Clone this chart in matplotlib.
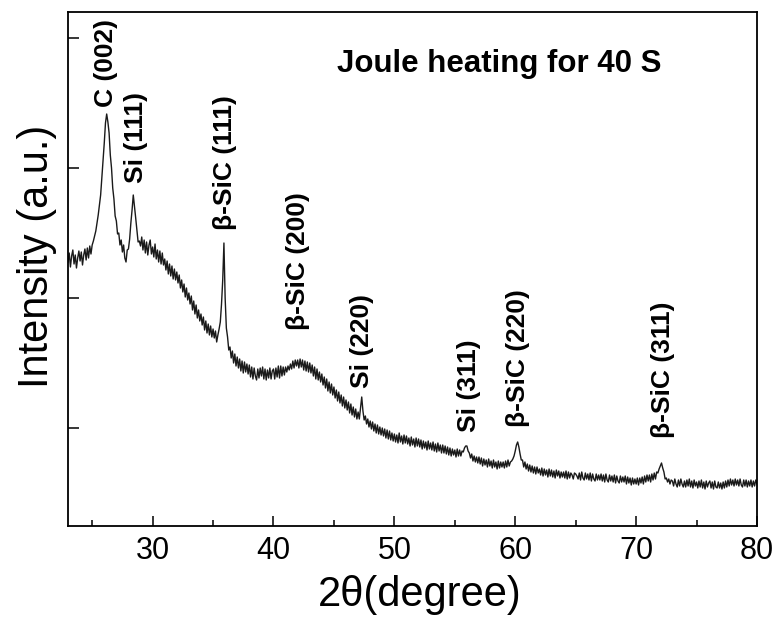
import numpy as np
import matplotlib
matplotlib.use("Agg")
import matplotlib.pyplot as plt
from matplotlib.ticker import MultipleLocator

plt.rcParams['font.family'] = ['Liberation Sans', 'DejaVu Sans']

# XRD scan, 0.1 degree step from 23 to 80 (2theta)
two_theta = np.round(np.arange(23.0, 80.05, 0.1), 1)

# intensity (a.u.), one row per degree
intensity = [
    264, 273, 259, 270, 276, 262, 271, 258, 268, 275,   # 23
    265, 274, 261, 271, 277, 266, 278, 268, 280, 272,   # 24
    281, 285, 290, 295, 303, 311, 321, 331, 348, 365,   # 25
    383, 403, 412, 404, 393, 371, 358, 338, 327, 310,   # 26
    305, 292, 293, 281, 286, 274, 281, 268, 264, 276,   # 27
    277, 287, 303, 316, 331, 320, 308, 296, 284, 285,   # 28
    280, 289, 276, 286, 273, 284, 271, 281, 286, 272,   # 29
    279, 269, 282, 267, 276, 264, 275, 262, 273, 261,   # 30
    267, 256, 265, 252, 262, 250, 260, 247, 257, 246,   # 31
    254, 243, 251, 238, 246, 234, 242, 229, 238, 226,   # 32
    233, 222, 230, 216, 225, 212, 221, 208, 216, 205,   # 33
    212, 201, 209, 196, 205, 193, 202, 191, 200, 189,   # 34
    197, 188, 195, 184, 191, 197, 204, 222, 246, 283,   # 35
    228, 198, 189, 176, 179, 168, 175, 163, 172, 160,   # 36
    169, 158, 167, 155, 165, 153, 164, 154, 162, 152,   # 37
    161, 149, 159, 147, 158, 150, 146, 157, 148, 158,   # 38
    150, 159, 147, 157, 146, 156, 148, 158, 147, 155,   # 39
    157, 147, 158, 149, 160, 148, 160, 150, 159, 151,   # 40
    159, 154, 160, 156, 162, 157, 165, 158, 166, 160,   # 41
    166, 158, 167, 159, 166, 156, 165, 155, 164, 154,   # 42
    163, 153, 161, 150, 159, 147, 157, 146, 154, 144,   # 43
    152, 141, 149, 138, 147, 135, 144, 133, 142, 131,   # 44
    139, 128, 136, 125, 134, 123, 131, 120, 129, 118,   # 45
    126, 116, 124, 113, 122, 111, 119, 109, 117, 107,   # 46
    114, 107, 118, 129, 115, 106, 110, 102, 107,  99,   # 47
    105,  97, 104,  95, 102,  93, 101,  92,  99,  91,   # 48
     98,  90,  97,  88,  96,  87,  95,  86,  93,  85,   # 49
     92,  84,  91,  83,  93,  84,  90,  82,  91,  83,   # 50
     90,  82,  88,  80,  89,  81,  87,  79,  88,  80,   # 51
     87,  79,  86,  77,  85,  78,  84,  76,  85,  77,   # 52
     83,  76,  84,  75,  82,  74,  83,  75,  81,  73,   # 53
     81,  73,  80,  72,  79,  71,  78,  70,  77,  71,   # 54
     76,  69,  77,  70,  76,  70,  75,  74,  78,  80,   # 55
     80,  75,  73,  68,  72,  65,  70,  64,  69,  63,   # 56
     69,  62,  68,  60,  67,  61,  66,  59,  67,  60,   # 57
     65,  58,  66,  59,  64,  57,  65,  58,  64,  59,   # 58
     64,  58,  65,  59,  66,  60,  64,  65,  67,  70,   # 59
     75,  81,  84,  79,  72,  66,  66,  59,  64,  57,   # 60
     62,  55,  61,  54,  60,  53,  59,  52,  59,  53,   # 61
     57,  51,  58,  50,  57,  51,  56,  49,  57,  50,   # 62
     56,  49,  55,  48,  56,  50,  55,  48,  54,  49,   # 63
     54,  48,  55,  47,  54,  48,  53,  51,  47,  53,   # 64
     52,  50,  47,  53,  46,  54,  48,  46,  53,  47,   # 65
     52,  46,  53,  45,  52,  47,  45,  52,  46,  51,   # 66
     46,  52,  45,  51,  44,  52,  46,  44,  51,  45,   # 67
     50,  44,  51,  43,  50,  45,  43,  50,  44,  49,   # 68
     44,  50,  42,  49,  43,  48,  41,  48,  42,  47,   # 69
     42,  48,  41,  48,  43,  49,  42,  50,  44,  51,   # 70
     45,  51,  44,  52,  46,  53,  47,  54,  53,  57,   # 71
     60,  63,  58,  54,  47,  48,  44,  47,  42,  46,   # 72
     45,  40,  47,  42,  39,  46,  40,  47,  42,  39,   # 73
     45,  39,  46,  40,  47,  39,  45,  38,  46,  40,   # 74
     44,  38,  45,  39,  46,  38,  44,  37,  45,  39,   # 75
     43,  45,  38,  44,  37,  45,  39,  38,  44,  38,   # 76
     43,  37,  44,  38,  45,  39,  46,  40,  47,  41,   # 77
     46,  40,  47,  41,  46,  40,  47,  41,  39,  46,   # 78
     40,  46,  39,  45,  40,  46,  39,  45,  40,  46,   # 79
     42,                                                # 80
]

# peak assignments: label, 2theta position, height of label base
peak_labels = ['C (002)', 'Si (111)', 'β-SiC (111)', 'β-SiC (200)',
               'Si (220)', 'Si (311)', 'β-SiC (220)', 'β-SiC (311)']
peak_pos = [26.15, 28.6, 36.0, 42.05, 47.3, 56.2, 60.25, 72.2]
label_base = [419, 343, 296, 196, 138, 94, 99, 88]

fig = plt.figure(figsize=(7.79, 6.17), dpi=100)
ax = fig.add_axes([68 / 779, 1 - 526 / 617, 689 / 779, 514 / 617])

ax.plot(two_theta, intensity, color='#1a1a1a', lw=1.0)

ax.set_xlim(23, 80)
ax.set_ylim(0, 514)
ax.xaxis.set_major_locator(MultipleLocator(10))
ax.xaxis.set_minor_locator(MultipleLocator(5))
ax.set_yticks([98, 228, 358, 488])
ax.set_yticklabels([])
ax.tick_params(axis='x', which='major', direction='in', length=7, width=1.1,
               labelsize=22, pad=7)
ax.tick_params(axis='x', which='minor', direction='in', length=4, width=1.1)
ax.tick_params(axis='y', direction='in', length=8, width=1.1)
for sp in ax.spines.values():
    sp.set_linewidth(1.3)

for lab, x, y in zip(peak_labels, peak_pos, label_base):
    ax.text(x, y, lab, rotation=90, ha='center', va='bottom',
            fontsize=19, fontweight='bold')

ax.text(0.39, 0.899, 'Joule heating for 40 S', transform=ax.transAxes,
        ha='left', va='center', fontsize=22.5, fontweight='bold')

fig.text(420 / 779, 1 - 595 / 617, '2θ(degree)', ha='center', va='center',
         fontsize=30)
fig.text(37 / 779, 1 - 256 / 617, 'Intensity (a.u.)', rotation=90,
         ha='center', va='center', fontsize=30)

fig.savefig('out.png', dpi=100)
